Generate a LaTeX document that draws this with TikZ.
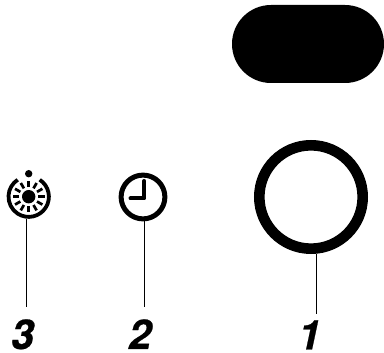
\documentclass[tikz,border=0pt]{standalone}
\usepackage{fontspec}
\setmainfont{TeX Gyre Heros}
\newfontfamily\numfont[FakeBold=0.6]{TeX Gyre Heros Bold Italic}
\tikzset{
  leader/.style={draw=black,line width=1pt},
  numlabel/.style={font=\fontsize{41}{41}\numfont,inner sep=0pt,anchor=base,text=black},
  ringnode/.style={circle,draw=black,fill=white,inner sep=0pt,outer sep=0pt},
  ray/.style={draw=black,line width=2.7pt},
}
\begin{document}
\begin{tikzpicture}[x=1pt,y=1pt]
\useasboundingbox (0,0) rectangle (384,353);
% pill
\fill[black] (271,348) arc[start angle=90,end angle=270,radius=39] -- (345,270) arc[start angle=-90,end angle=90,radius=39] -- cycle;
% big ring
\node[ringnode,line width=10.6pt,minimum size=103.4pt] (ring) at (311,156) {};
% clock
\node[ringnode,line width=5pt,minimum size=43.8pt] (clock) at (143,156) {};
\draw[line width=4pt,line cap=round,line join=round] (144.3,172) -- (144.3,154.5) -- (130.5,154.5);
% sun icon
\coordinate (sun) at (28.7,156.3);
\draw[line width=3.8pt] (sun) ++(57:20.2) arc[start angle=57,end angle=-237,radius=20.2];
\fill[black] (28.7,179.3) circle[radius=3.7];
\fill[black] (sun) circle[radius=6.7];
\foreach \a in {0,30,...,330} {
  \draw[ray] (sun) ++(\a:9.6) -- ++(\a:6.2);
}
% labels
\node[numlabel] (n3) at (22.5,4) {3};
\node[numlabel] (n2) at (140,4) {2};
\node[numlabel] (n1) at (309.5,3.5) {1};
% leaders
\coordinate (e3) at (26,45.5);
\coordinate (s3) at (26,134);
\coordinate (e2) at (144.3,45.5);
\coordinate (s2) at (144.3,132);
\coordinate (e1) at (316,39);
\coordinate (s1) at (316,99);
\draw[leader] (s3) -- (e3);
\draw[leader] (s2) -- (e2);
\draw[leader] (s1) -- (e1);
\end{tikzpicture}
\end{document}
